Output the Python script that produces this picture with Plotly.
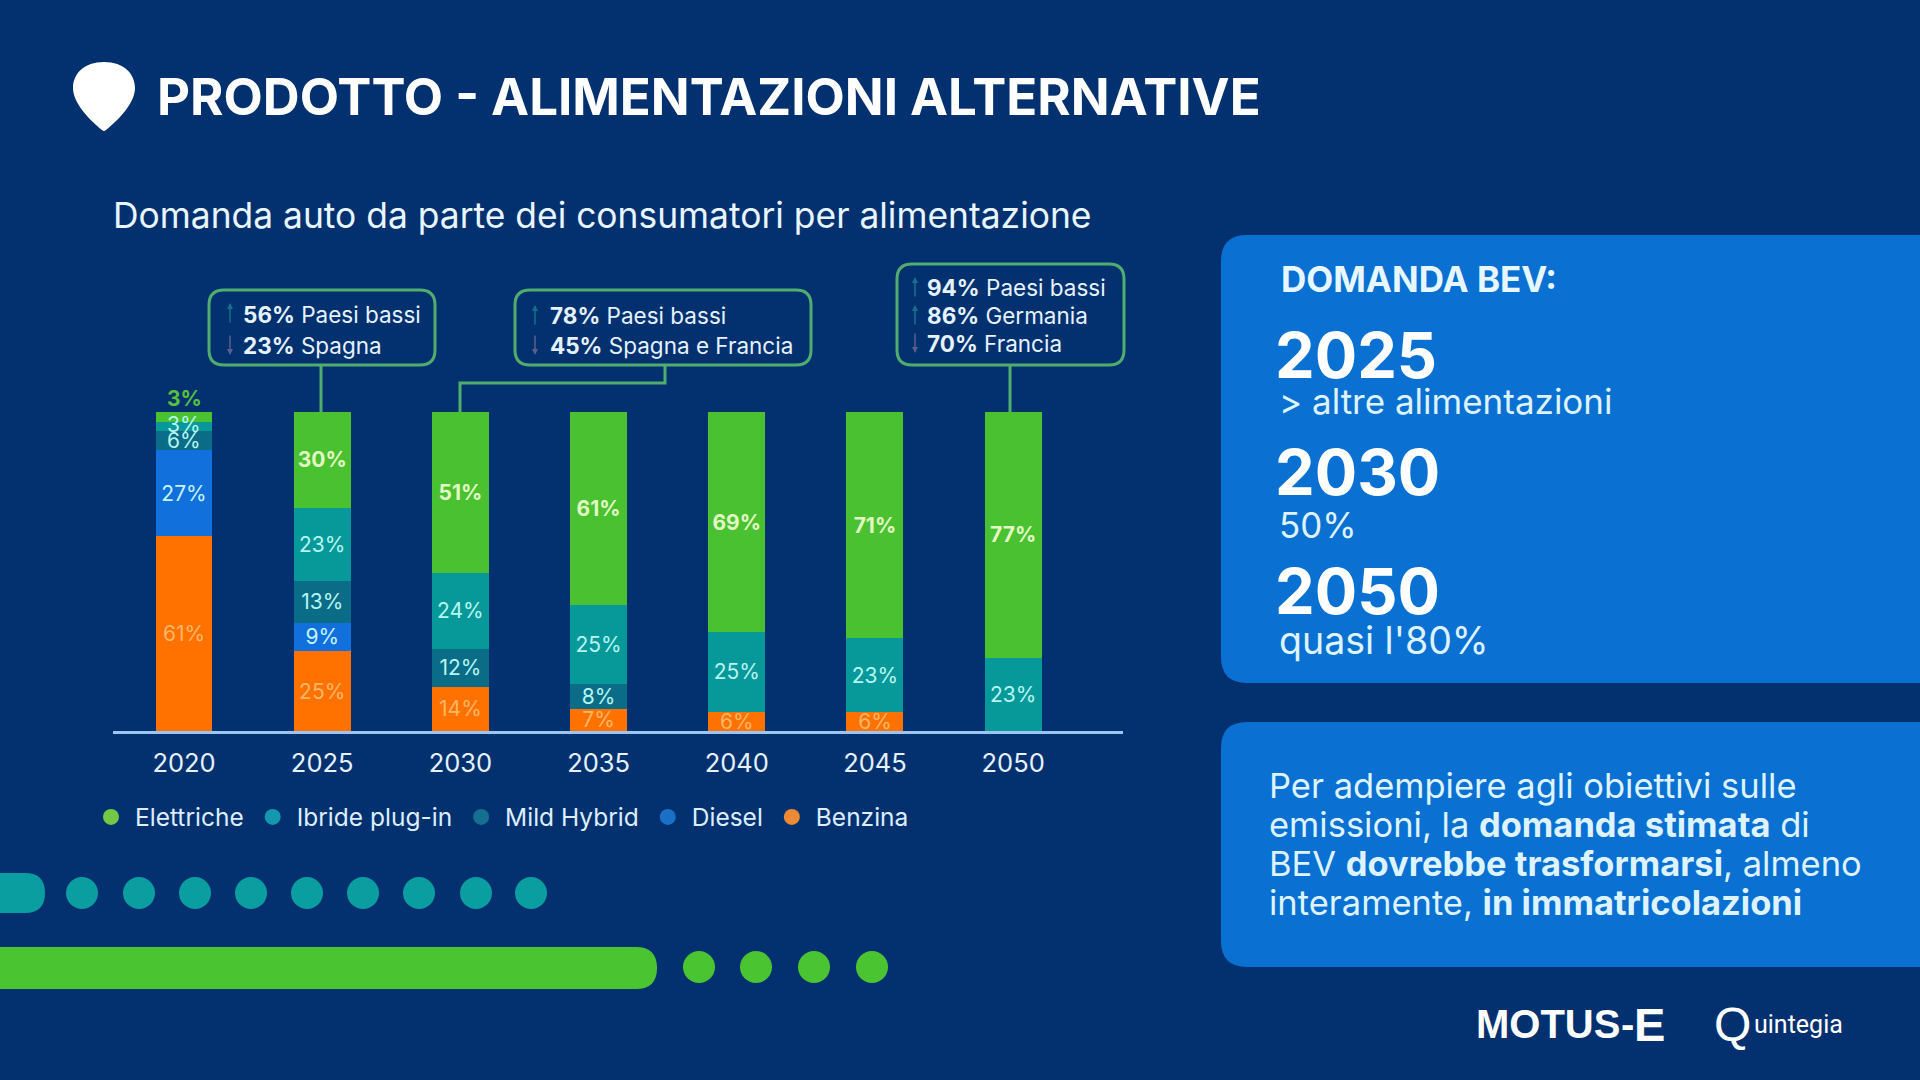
import plotly.graph_objects as go

W, H = 1920, 1080
FONT = "Inter"
BG = "#03316F"

years = ["2020", "2025", "2030", "2035", "2040", "2045", "2050"]
elettriche = [3, 30, 51, 61, 69, 71, 77]
plugin = [3, 23, 24, 25, 25, 23, 23]
mild = [6, 13, 12, 8, None, None, None]
diesel = [27, 9, None, None, None, None, None]
benzina = [61, 25, 14, 7, 6, 6, None]

series_names = ["Elettriche", "Ibride plug-in", "Mild Hybrid", "Diesel", "Benzina"]
bar_colors = ["#49C130", "#07989A", "#0B6C88", "#1270DC", "#FF7200"]
legend_colors = ["#74C846", "#1597AE", "#15708F", "#1A70C6", "#EE8A36"]
label_colors = ["#E2F8C4", "#B4F7F0", "#B4F7F0", "#C4F4FA", "#FFB766"]

callouts = [
    [("56%", "Paesi bassi", "up"), ("23%", "Spagna", "down")],
    [("78%", "Paesi bassi", "up"), ("45%", "Spagna e Francia", "down")],
    [("94%", "Paesi bassi", "up"), ("86%", "Germania", "up"), ("70%", "Francia", "down")],
]

title_text = "PRODOTTO - ALIMENTAZIONI ALTERNATIVE"
subtitle_text = "Domanda auto da parte dei consumatori per alimentazione"
bev_rows = [("2025", "&gt; altre alimentazioni"), ("2030", "50%"), ("2050", "quasi l'80%")]
note_lines = ["Per adempiere agli obiettivi sulle",
              "emissioni, la <b>domanda stimata</b> di",
              "BEV <b>dovrebbe trasformarsi</b>, almeno",
              "interamente, <b>in immatricolazioni</b>"]


def px(x):
    return x / W


def py(y):
    return 1 - y / H


def rect(x0, y0, x1, y1, r, **kw):
    path = (f"M {px(x0+r)},{py(y0)} L {px(x1-r)},{py(y0)} "
            f"Q {px(x1)},{py(y0)} {px(x1)},{py(y0+r)} L {px(x1)},{py(y1-r)} "
            f"Q {px(x1)},{py(y1)} {px(x1-r)},{py(y1)} L {px(x0+r)},{py(y1)} "
            f"Q {px(x0)},{py(y1)} {px(x0)},{py(y1-r)} L {px(x0)},{py(y0+r)} "
            f"Q {px(x0)},{py(y0)} {px(x0+r)},{py(y0)} Z")
    return dict(type="path", path=path, xref="paper", yref="paper", **kw)


def text(x, y, s, size, color="#FFFFFF", xanchor="left", family=FONT):
    return dict(x=px(x), y=py(y), xref="paper", yref="paper", text=s, showarrow=False,
                xanchor=xanchor, yanchor="middle", align="left",
                font=dict(family=family, size=size, color=color))


def circle(cx, cy, r, color):
    return dict(type="circle", xref="paper", yref="paper", x0=px(cx-r), x1=px(cx+r),
                y0=py(cy+r), y1=py(cy-r), fillcolor=color, line=dict(width=0), layer="below")


def line(pts, color, width):
    path = "M " + " L ".join(f"{px(a)},{py(b)}" for a, b in pts)
    return dict(type="path", path=path, xref="paper", yref="paper",
                line=dict(color=color, width=width))


fig = go.Figure()

stack = [("Benzina", benzina), ("Diesel", diesel), ("Mild Hybrid", mild),
         ("Ibride plug-in", plugin), ("Elettriche", elettriche)]
for name, vals in stack:
    i = series_names.index(name)
    labels = [f"{v}%" if v else "" for v in vals]
    # the thin first-column segments are labelled with annotations further down
    if name in ("Elettriche", "Ibride plug-in", "Mild Hybrid"):
        labels[0] = ""
    fig.add_bar(x=years, y=vals, name=name, marker=dict(color=bar_colors[i], line=dict(width=0)),
                text=labels, textposition="inside", insidetextanchor="middle",
                constraintext="none", cliponaxis=False, textangle=0,
                insidetextfont=dict(family=FONT, size=21, color=label_colors[i],
                                    weight="bold" if name == "Elettriche" else "normal"),
                showlegend=False)

for name, col in zip(series_names, legend_colors):
    fig.add_scatter(x=[None], y=[None], mode="markers", name=name,
                    marker=dict(color=col, size=16, symbol="circle"))

shapes = [
    rect(1221, 235, 1990, 683, 26, fillcolor="#0A70D2", line=dict(width=0), layer="below"),
    rect(1221, 722, 1990, 967, 26, fillcolor="#0A70D2", line=dict(width=0), layer="below"),
    # decorative bands
    rect(-40, 873, 45, 913, 20, fillcolor="#0A9EA0", line=dict(width=0), layer="below"),
    rect(-40, 947, 657, 989, 21, fillcolor="#4AC431", line=dict(width=0), layer="below"),
]
for cx in [82, 139, 195, 251, 307, 363, 419, 476, 531]:
    shapes.append(circle(cx, 893, 16, "#0A9EA0"))
for cx in [699, 756, 814, 872]:
    shapes.append(circle(cx, 967, 16, "#4AC431"))

# pin icon
shapes.append(dict(type="path", xref="paper", yref="paper", fillcolor="#FFFFFF", line=dict(width=0),
                   path=(f"M {px(104)},{py(62)} C {px(124)},{py(62)} {px(135)},{py(74)} {px(135)},{py(88)} "
                         f"C {px(135)},{py(104)} {px(116)},{py(122)} {px(106)},{py(130)} "
                         f"Q {px(104)},{py(132)} {px(102)},{py(130)} "
                         f"C {px(92)},{py(122)} {px(73)},{py(104)} {px(73)},{py(88)} "
                         f"C {px(73)},{py(74)} {px(84)},{py(62)} {px(104)},{py(62)} Z")))

BOX = "#4FAE6E"
for (x0, y0, x1, y1) in [(209, 290, 435, 365), (515, 290, 811, 365), (897, 264, 1124, 365)]:
    shapes.append(rect(x0, y0, x1, y1, 15, line=dict(color=BOX, width=3), fillcolor="rgba(0,0,0,0)"))
shapes.append(line([(321, 365), (321, 412)], BOX, 3))
shapes.append(line([(665, 365), (665, 383), (460, 383), (460, 412)], BOX, 3))
shapes.append(line([(1010, 365), (1010, 412)], BOX, 3))

anns = [
    text(155, 97, f"<b>{title_text}</b>", 51),
    text(111, 215, subtitle_text, 35.4, "#E8F6FF"),
    # category axes take the serial number of the category here: 0 is the first year
    dict(x=0, y=100, xref="x", yref="y", text=f"<b>{elettriche[0]}%</b>", showarrow=False,
         yanchor="bottom", yshift=-1, font=dict(family=FONT, size=21, color="#56C23A")),
    dict(x=0, y=100 - elettriche[0] - plugin[0] / 2, xref="x", yref="y", text=f"{plugin[0]}%",
         showarrow=False, yanchor="middle", yshift=2, font=dict(family=FONT, size=21, color=label_colors[1])),
    dict(x=0, y=100 - elettriche[0] - plugin[0] - mild[0] / 2, xref="x", yref="y", text=f"{mild[0]}%",
         showarrow=False, yanchor="middle", font=dict(family=FONT, size=21, color=label_colors[2])),
]

positions = [
    (241, [314, 345], 230), (548, [316, 345], 535), (925, [288, 316, 343], 915),
]
for rows, (tx, ys, ax) in zip(callouts, positions):
    for (pct, place, d), y in zip(rows, ys):
        anns.append(text(tx, y, f"<b>{pct}</b> {place}", 22.5, "#E4F3FF"))
        head, tail = (y - 11, y + 10) if d == "up" else (y + 10, y - 11)
        anns.append(dict(x=px(ax), y=py(head), xref="paper", yref="paper", text="", showarrow=True,
                         axref="pixel", ayref="pixel", ax=0, ay=tail - head, arrowhead=2,
                         arrowsize=0.8, arrowwidth=1.5,
                         arrowcolor="#14708A" if d == "up" else "#5A5F8C"))

anns.append(text(1279, 279, "<b>DOMANDA BEV:</b>", 35, "#E6F7FF"))
for (big, small), yb, ys, sz in zip(bev_rows, [355, 472, 591], [401, 525, 640], [35, 35, 37.5]):
    anns.append(text(1273, yb, f"<b>{big}</b>", 63))
    anns.append(text(1277, ys, small, sz, "#DDF3FF"))

for line_text, y in zip(note_lines, [785, 824, 863, 902]):
    anns.append(text(1267, y, line_text, 34.5, "#DDF3FF"))

anns.append(text(1474, 1024, "<b>MOTUS</b>", 40, family="Liberation Sans"))
anns.append(text(1619, 1024, "<b>-</b>", 40, family="Liberation Sans"))
anns.append(text(1632, 1024, "<b>E</b>", 47, family="Liberation Sans"))
anns.append(text(1712, 1024, "Q", 48, family="Liberation Sans"))
anns.append(text(1752, 1024, "uintegia", 25, family="Roboto"))

fig.update_layout(
    width=W, height=H, margin=dict(l=0, r=0, t=0, b=0),
    paper_bgcolor=BG, plot_bgcolor="rgba(0,0,0,0)",
    barmode="stack", barnorm="percent", bargap=0.588,
    font=dict(family=FONT, color="#FFFFFF"),
    shapes=shapes, annotations=anns,
    legend=dict(orientation="h", x=px(87), y=py(817), xanchor="left", yanchor="middle",
                font=dict(family=FONT, size=24.5, color="#DCEEFF"),
                itemwidth=38, bgcolor="rgba(0,0,0,0)", traceorder="normal"),
    xaxis=dict(type="category", domain=[px(113), px(1123)], range=[-0.514, 6.795],
               showgrid=False, zeroline=False, showline=True, linecolor="#9CC6F2", linewidth=2.5,
               ticks="", tickfont=dict(family=FONT, size=25.5, color="#E4F3FF"),
               ticklabelstandoff=8, anchor="y", fixedrange=True),
    yaxis=dict(domain=[py(731), py(412)], range=[0, 100], visible=False, fixedrange=True),
)

fig.write_html("out.html", post_script="document.body.style.margin='0';",
               config=dict(displayModeBar=False))
